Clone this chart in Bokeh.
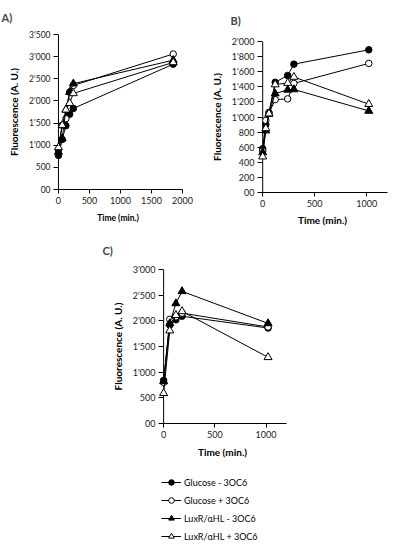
from bokeh.plotting import figure
from bokeh.models import Range1d, FixedTicker, Legend, LegendItem, Spacer, ColumnDataSource, Span
from bokeh.layouts import column, row
from bokeh.embed import file_html
from bokeh.resources import INLINE

FONT = "Lato"

series_names = ["Glucose - 3OC6", "Glucose + 3OC6", "LuxR/\u03b1HL - 3OC6", "LuxR/\u03b1HL + 3OC6"]
series_markers = ["circle", "circle", "triangle", "triangle"]
series_fills = ["black", "white", "black", "white"]

# Panel A
a_time = [0, 60, 120, 180, 240, 1850]
a_glc_minus = [770, 1130, 1440, 1700, 1830, 2830]
a_glc_plus = [900, 1450, 1600, 2200, 2350, 3060]
a_lux_minus = [850, 1150, 1800, 2200, 2390, 2920]
a_lux_plus = [950, 1450, 1800, 1950, 2170, 2870]
a_xticks = [0, 500, 1000, 1500, 2000]
a_xlabels = ["0", "500", "1000", "1500", "2000"]
a_yticks = [0, 500, 1000, 1500, 2000, 2500, 3000, 3500]
a_ylabels = ["00", "500", "1'000", "1'500", "2'000", "2'500", "3'000", "3'500"]

# Panel B
b_time = [0, 30, 60, 120, 240, 300, 1020]
b_glc_minus = [580, 900, 1060, 1460, 1550, 1700, 1890]
b_glc_plus = [550, 955, 1050, 1230, 1240, 1445, 1710]
b_lux_minus = [530, 820, 1040, 1310, 1360, 1365, 1080]
b_lux_plus = [475, 850, 1045, 1430, 1450, 1530, 1170]
b_xticks = [0, 500, 1000]
b_xlabels = ["0", "500", "1000"]
b_yticks = [0, 200, 400, 600, 800, 1000, 1200, 1400, 1600, 1800, 2000]
b_ylabels = ["00", "200", "400", "600", "800", "1'000", "1'200", "1'400", "1'600", "1'800", "2'000"]

# Panel C
c_time = [0, 60, 120, 180, 1020]
c_glc_minus = [840, 1920, 2020, 2090, 1860]
c_glc_plus = [800, 2030, 2080, 2150, 1880]
c_lux_minus = [820, 1950, 2340, 2575, 1950]
c_lux_plus = [590, 1810, 2110, 2185, 1290]
c_xticks = [0, 500, 1000]
c_xlabels = ["0", "500", "1000"]
c_yticks = [0, 500, 1000, 1500, 2000, 2500, 3000]
c_ylabels = ["00", "500", "1'000", "1'500", "2'000", "2'500", "3'000"]


def make_panel(title, title_offset, title_standoff, width, height, xr, yr, borders,
               xticks, xlabels, yticks, ylabels, xtick_fs, ytick_fs, xlab_fs,
               time, series, xlab_standoff, ylab_standoff):
    left, right, top, bottom = borders
    p = figure(width=width, height=height, output_backend="svg", toolbar_location=None,
               x_range=Range1d(*xr), y_range=Range1d(*yr),
               min_border_left=left, min_border_right=right,
               min_border_top=top, min_border_bottom=bottom)
    p.title.text = title
    p.title.text_font = FONT
    p.title.text_font_size = "11px"
    p.title.text_font_style = "bold"
    p.title.text_line_height = 1.0
    p.title.vertical_align = "top"
    p.title.offset = title_offset
    p.title.standoff = title_standoff
    p.xgrid.visible = False
    p.ygrid.visible = False
    p.outline_line_color = None
    for ax in (p.xaxis[0], p.yaxis[0]):
        ax.axis_line_color = "black"
        ax.axis_line_width = 1
        ax.major_tick_line_color = "black"
        ax.minor_tick_line_color = None
        ax.major_label_text_font = FONT
        ax.major_label_text_color = "#1a1a1a"
        ax.axis_label_text_font = FONT
        ax.axis_label_text_font_style = "bold"
        ax.axis_label_text_color = "black"
    p.xaxis.major_tick_out = 4
    p.xaxis.major_tick_in = 0
    p.xaxis.major_label_standoff = 3
    p.xaxis.bounds = (0, xr[1])
    # y axis: labels at the frame edge, ticks reaching in to the value-0 line
    p.yaxis.axis_line_color = None
    p.yaxis.major_tick_out = 0
    p.yaxis.major_tick_in = 5
    p.yaxis.major_label_standoff = 3
    p.xaxis.ticker = FixedTicker(ticks=xticks)
    p.xaxis.major_label_overrides = dict(zip(xticks, xlabels))
    p.yaxis.ticker = FixedTicker(ticks=yticks)
    p.yaxis.major_label_overrides = dict(zip(yticks, ylabels))
    p.xaxis.major_label_text_font_size = xtick_fs
    p.yaxis.major_label_text_font_size = ytick_fs
    p.xaxis.axis_label = "Time (min.)"
    p.xaxis.axis_label_text_font_size = xlab_fs
    p.xaxis.axis_label_standoff = xlab_standoff
    p.yaxis.axis_label = "Fluorescence (A. U.)"
    p.yaxis.axis_label_text_font_size = "10px"
    p.yaxis.axis_label_standoff = ylab_standoff
    p.add_layout(Span(location=0, dimension="height", line_color="black",
                      line_width=1, level="underlay"))
    for vals, m, fill in zip(series, series_markers, series_fills):
        src = ColumnDataSource(dict(t=time, v=vals))
        p.line("t", "v", source=src, line_color="black", line_width=1)
        p.scatter("t", "v", source=src, marker=m, size=6.5 if m == "circle" else 8,
                  fill_color=fill, line_color="black", line_width=1)
    return p


pA = make_panel("A)", -52, 18, 200, 230, (-80, 2000), (0, 3500), (53, 18, 34, 41),
                a_xticks, a_xlabels, a_yticks, a_ylabels, "9px", "8.5px", "8.5px",
                a_time, [a_glc_minus, a_glc_plus, a_lux_minus, a_lux_plus], 6, 6)
pB = make_panel("B)", -27, 26, 201, 230, (-50, 1200), (0, 2000), (57, 14, 41, 38),
                b_xticks, b_xlabels, b_yticks, b_ylabels, "9px", "9px", "10px",
                b_time, [b_glc_minus, b_glc_plus, b_lux_minus, b_lux_plus], 4, 6)
pC = make_panel("C)", -56, 22, 200, 230, (-50, 1200), (0, 3000), (58, 14, 39, 37),
                c_xticks, c_xlabels, c_yticks, c_ylabels, "9px", "9px", "10px",
                c_time, [c_glc_minus, c_glc_plus, c_lux_minus, c_lux_plus], 5, 6)

# Legend figure (one hidden sample point per entry lies outside the visible range)
pL = figure(width=401, height=95, output_backend="svg", toolbar_location=None,
            x_range=Range1d(-20, -10), y_range=Range1d(-20, -10),
            x_axis_type=None, y_axis_type=None, min_border=0)
pL.xgrid.visible = False
pL.ygrid.visible = False
pL.outline_line_color = None
items = []
for name, m, fill, vals in zip(series_names, series_markers, series_fills,
                               [c_glc_minus, c_glc_plus, c_lux_minus, c_lux_plus]):
    src = ColumnDataSource(dict(x=[c_time[0]], y=[vals[0]]))
    l = pL.line("x", "y", source=src, line_color="black", line_width=1)
    s = pL.scatter("x", "y", source=src, marker=m, size=6.5 if m == "circle" else 8,
                   fill_color=fill, line_color="black", line_width=1)
    items.append(LegendItem(label=name, renderers=[l, s]))
leg = Legend(items=items, location=(161, 12), border_line_color=None,
             background_fill_alpha=0, padding=0, margin=0, spacing=4,
             glyph_height=14, glyph_width=20, label_height=14, label_standoff=3,
             label_text_font=FONT, label_text_font_size="9px", label_text_color="black")
pL.add_layout(leg)

layout = column(row(column(pA), column(pB)), row(Spacer(width=100, height=230), pC), pL)

open("out.html", "w").write(file_html(layout, INLINE))
